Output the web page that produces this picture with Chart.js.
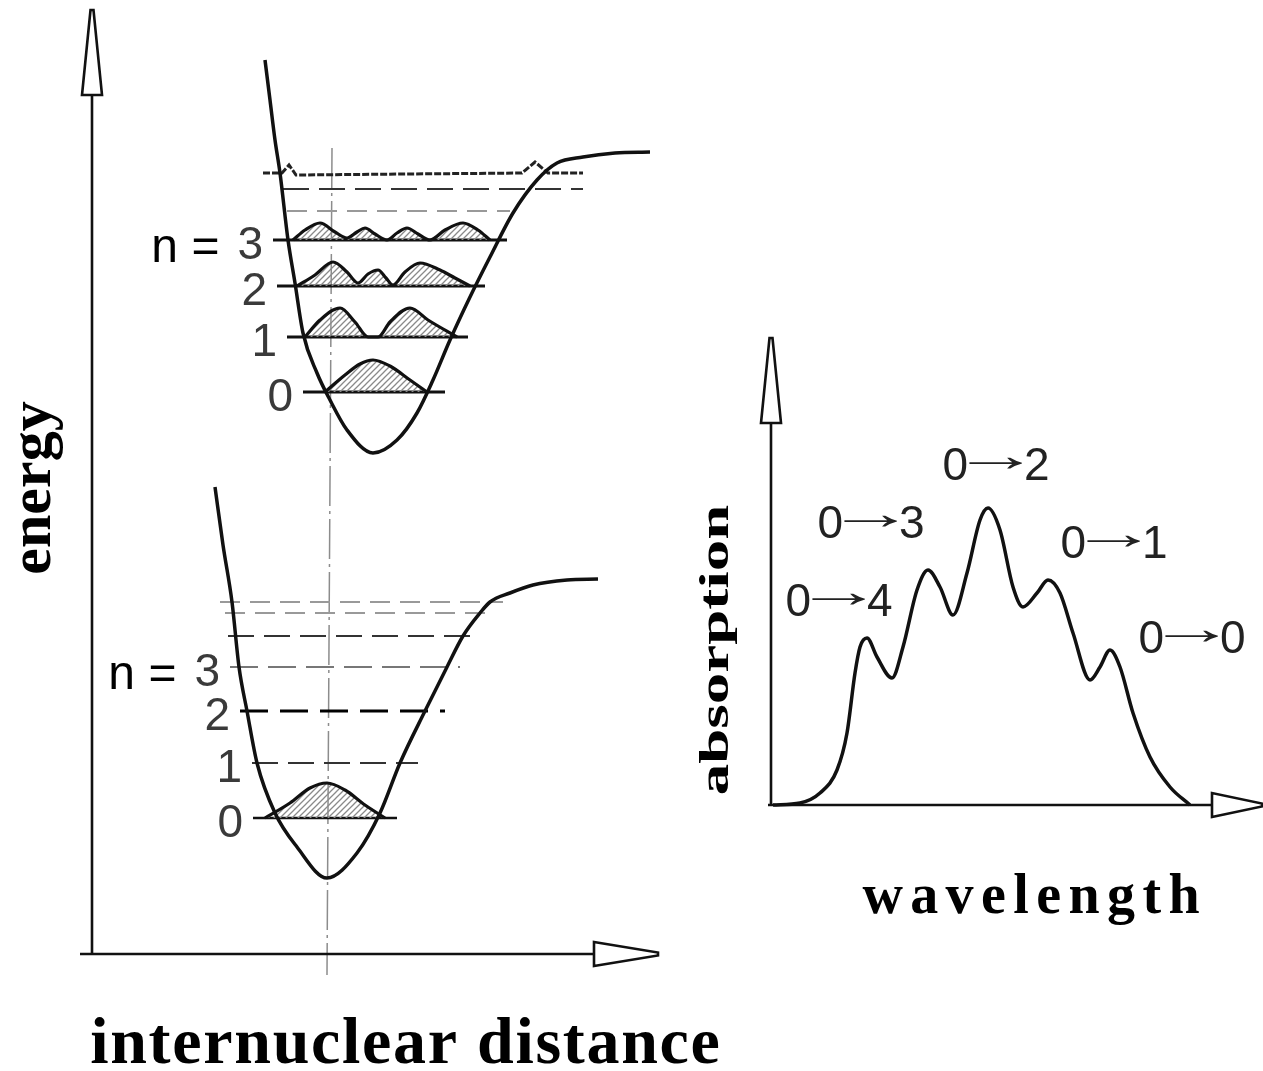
<!DOCTYPE html>
<html>
<head>
<meta charset="utf-8">
<script src="https://cdn.jsdelivr.net/npm/chart.js@4.4.0/dist/chart.umd.min.js"></script>
<style>
  html, body { margin: 0; padding: 0; background: #fff; }
  #wrap { position: relative; width: 1263px; height: 1071px; overflow: hidden; }
  canvas { position: absolute; top: 0; }
  #potentials { left: 0; }
  #spectrum { left: 680px; }
</style>
</head>
<body>
<div id="wrap">
  <canvas id="potentials" width="760" height="1071"></canvas>
  <canvas id="spectrum" width="583" height="1071"></canvas>
</div>
<script>
// ---- potential curves (internuclear distance, energy), arbitrary units ----
const excitedCurve = [
    [18.5, 89.5], [19.0, 85.5], [19.5, 81.5], [20.0, 78.2], [20.8, 71.5], [21.5, 67.2],
    [22.3, 62.2], [23.7, 58.2], [25.0, 55.5], [26.7, 52.5], [29.3, 50.2], [31.7, 51.5],
    [33.7, 54.2], [35.3, 57.5], [37.0, 61.5], [39.0, 65.8], [41.0, 69.8], [43.3, 74.2],
    [45.7, 77.5], [47.7, 79.2], [50.3, 79.8], [53.5, 80.2], [57.0, 80.3]
];
const groundCurve = [
    [13.5, 46.8], [14.3, 41.0], [15.2, 35.3], [15.9, 28.8], [16.7, 24.4], [17.7, 19.2],
    [19.5, 14.2], [21.7, 10.8], [24.7, 7.7], [27.7, 10.2], [30.0, 14.2], [32.0, 19.2],
    [34.5, 24.4], [36.7, 28.8], [38.3, 31.9], [40.0, 34.2], [41.0, 35.3], [43.0, 36.2],
    [45.3, 37.0], [48.7, 37.5], [51.8, 37.6]
];
const equilibriumLine = [[25.2, 80.7], [24.7, -2.0]];

// vibrational levels: energy, start, end, quantum number
const excitedLevelE    = [76.6, 74.4, 71.5, 66.9, 61.8, 56.3];
const excitedLevelFrom = [20.3, 20.7, 19.3, 19.7, 20.7, 22.3];
const excitedLevelTo   = [50.3, 43.0, 42.7, 40.5, 38.8, 36.5];
const excitedLevelN    = [null, null, 3, 2, 1, 0];
const excitedTopLevel = [
    [18.3, 78.2], [20.2, 78.2], [20.9, 79.0], [21.6, 78.0], [44.2, 78.2],
    [45.5, 79.3], [46.8, 78.2], [50.3, 78.2]
];

const groundLevelE    = [35.3, 34.2, 31.9, 28.8, 24.4, 19.2, 13.7];
const groundLevelFrom = [14.0, 14.5, 14.8, 15.0, 16.0, 17.2, 17.3];
const groundLevelTo   = [42.3, 41.5, 39.8, 38.0, 36.5, 33.8, 31.7];
const groundLevelN    = [null, null, null, 3, 2, 1, 0];

// vibrational wavefunctions (probability density sitting on each level)
const excitedPsi3 = [
    [21.3, 71.5], [22.5, 72.5], [24.0, 73.2], [25.5, 72.3], [26.7, 71.7], [27.7, 72.3],
    [28.5, 72.7], [29.5, 72.1], [30.7, 71.5], [31.7, 72.2], [32.7, 72.7], [33.8, 72.1],
    [35.0, 71.5], [36.5, 72.5], [38.3, 73.2], [39.8, 72.5], [41.0, 71.5]
];
const excitedPsi2 = [
    [21.7, 66.9], [23.5, 68.0], [25.3, 69.3], [26.7, 68.3], [27.8, 67.2], [28.8, 68.1],
    [29.8, 68.5], [30.6, 67.7], [31.3, 67.0], [32.5, 68.3], [34.0, 69.2], [36.0, 68.5],
    [37.5, 67.7], [39.0, 66.9]
];
const excitedPsi1 = [
    [22.5, 61.8], [24.0, 63.5], [26.0, 64.7], [27.5, 63.3], [28.8, 61.8], [29.8, 61.8],
    [31.0, 63.3], [33.0, 64.7], [34.8, 63.5], [37.7, 61.8]
];
const excitedPsi0 = [
    [24.5, 56.3], [26.5, 58.0], [28.0, 59.1], [29.3, 59.5], [31.0, 58.9], [33.0, 57.5], [34.7, 56.3]
];
const groundPsi0 = [
    [18.5, 13.7], [21.0, 15.2], [23.0, 16.7], [24.7, 17.2], [26.5, 16.5], [28.5, 15.0], [30.5, 13.7]
];

// ---- absorption spectrum (wavelength, absorption), arbitrary units ----
const spectrum = [
    [0.3, 0.0], [3.0, 0.2], [5.0, 1.2], [6.7, 3.5], [7.7, 7.2], [8.5, 13.2], [9.0, 15.8],
    [9.7, 16.7], [10.7, 14.8], [12.2, 12.7], [13.3, 15.8], [14.7, 21.5], [15.8, 23.5],
    [17.0, 21.8], [18.3, 19.0], [19.7, 23.2], [21.0, 28.5], [21.8, 29.7], [23.0, 27.5],
    [24.3, 21.8], [25.3, 19.8], [26.7, 21.2], [27.8, 22.5], [29.0, 21.2], [30.3, 17.2],
    [32.0, 12.5], [33.0, 13.8], [34.0, 15.5], [35.0, 13.8], [36.3, 9.2], [38.0, 4.8],
    [40.0, 1.8], [42.0, 0.0]
];
const transitionNames = ['0→4', '0→3', '0→2', '0→1', '0→0'];
const transitionLabelX = [6.9, 10.1, 22.6, 34.4, 42.2];
const transitionLabelY = [20.6, 28.4, 34.2, 26.4, 16.9];

// ---- styles ----
const INK = '#111';
const levelStyles = {
    solid: { borderColor: INK, borderWidth: 3.2, borderDash: [] },
    thin:  { borderColor: INK, borderWidth: 2.6, borderDash: [] },
    dash:  { borderColor: '#333', borderWidth: 2.2, borderDash: [26, 10] },
    gray:  { borderColor: '#999', borderWidth: 2.2, borderDash: [20, 10] },
    bold:  { borderColor: '#000', borderWidth: 3, borderDash: [28, 12] },
    light: { borderColor: '#777', borderWidth: 2.2, borderDash: [28, 10] }
};
const excitedLevelKind = ['dash', 'gray', 'solid', 'solid', 'solid', 'solid'];
const groundLevelKind  = ['gray', 'gray', 'dash', 'light', 'bold', 'dash', 'thin'];

const toPts = arr => arr.map(([x, y]) => ({ x, y }));

function hatchPattern(ctx) {
    const c = document.createElement('canvas');
    c.width = c.height = 6;
    const g = c.getContext('2d');
    g.strokeStyle = '#8a8a8a';
    g.lineWidth = 1.3;
    g.beginPath();
    g.moveTo(0, 6); g.lineTo(6, 0);
    g.moveTo(-1, 1); g.lineTo(1, -1);
    g.moveTo(5, 7); g.lineTo(7, 5);
    g.stroke();
    return ctx.createPattern(c, 'repeat');
}

function curve(data, extra) {
    return Object.assign({
        data: toPts(data),
        borderColor: INK,
        borderWidth: 3.5,
        pointRadius: 0,
        fill: false,
        clip: false,
        cubicInterpolationMode: 'monotone'
    }, extra || {});
}

function levelSet(E, from, to, kind) {
    return E.map((e, i) => curve([[from[i], e], [to[i], e]],
        Object.assign({ tension: 0, cubicInterpolationMode: 'default' }, levelStyles[kind[i]])));
}

function arrowHead(ctx, x0, y0, x1, y1, xb, yb, half) {
    // shaft from (x0,y0) to base (xb,yb), open triangle to tip (x1,y1)
    ctx.beginPath();
    ctx.moveTo(x0, y0);
    ctx.lineTo(xb, yb);
    ctx.stroke();
    const dx = x1 - xb, dy = y1 - yb;
    const len = Math.hypot(dx, dy);
    const nx = -dy / len, ny = dx / len;
    ctx.beginPath();
    ctx.moveTo(xb + nx * half, yb + ny * half);
    ctx.lineTo(x1 + nx * 1.5, y1 + ny * 1.5);
    ctx.lineTo(x1 - nx * 1.5, y1 - ny * 1.5);
    ctx.lineTo(xb - nx * half, yb - ny * half);
    ctx.closePath();
    ctx.fillStyle = '#fff';
    ctx.fill();
    ctx.stroke();
}

function spacedText(ctx, str, cx, baseline, spacing) {
    const chars = [...str];
    const widths = chars.map(c => ctx.measureText(c).width);
    const total = widths.reduce((a, b) => a + b, 0) + spacing * (chars.length - 1);
    let x = cx - total / 2;
    ctx.textAlign = 'left';
    ctx.textBaseline = 'alphabetic';
    chars.forEach((c, i) => {
        ctx.fillText(c, x, baseline);
        x += widths[i] + spacing;
    });
}

// "0→2" style label: digits as-is, the arrow glyph stretched to a long shaft
function transitionText(ctx, label, cx, cy, arrowLen) {
    const [from, to] = label.split('→');
    ctx.textAlign = 'left';
    ctx.textBaseline = 'alphabetic';
    const wFrom = ctx.measureText(from).width;
    const wTo = ctx.measureText(to).width;
    const m = ctx.measureText('→');
    const inkL = -m.actualBoundingBoxLeft;
    const inkW = m.actualBoundingBoxRight - inkL;
    const sx = arrowLen / inkW;
    const gap = 1;
    const total = wFrom + gap + arrowLen + gap + wTo;
    let x = cx - total / 2;
    const base = cy + 16.5;
    ctx.fillText(from, x, base);
    x += wFrom + gap;
    ctx.save();
    const arrowBase = cy + (m.actualBoundingBoxAscent - m.actualBoundingBoxDescent) / 2;
    ctx.translate(x - inkL * sx, arrowBase);
    ctx.scale(sx, 1);
    ctx.fillText('→', 0, 0);
    ctx.restore();
    x += arrowLen + gap;
    ctx.fillText(to, x, base);
}

function drawLevelNumbers(ctx, x, y, E, from, N) {
    E.forEach((e, i) => {
        if (N[i] === null) return;
        const right = x.getPixelForValue(from[i]) - 10;
        const base = y.getPixelForValue(e) + 19;
        ctx.font = '46px "Liberation Sans", Arial, sans-serif';
        ctx.fillStyle = '#3a3a3a';
        ctx.textAlign = 'right';
        ctx.textBaseline = 'alphabetic';
        ctx.fillText(String(N[i]), right, base);
        if (N[i] === 3) {
            const w = ctx.measureText('3').width;
            ctx.font = '48px "Liberation Sans", Arial, sans-serif';
            ctx.fillStyle = '#000';
            ctx.fillText('n =', right - w - 18, base + 3);
        }
    });
}

// ---- left: potential energy curves ----
const potentialDecor = {
    id: 'potentialDecor',
    afterDatasetsDraw(chart) {
        const { ctx, chartArea: a, scales: { x, y } } = chart;
        ctx.save();
        ctx.strokeStyle = INK;
        ctx.lineWidth = 2.6;
        arrowHead(ctx, x.getPixelForValue(1.2), y.getPixelForValue(0), x.getPixelForValue(1.2), y.getPixelForValue(94.5),
            x.getPixelForValue(1.2), y.getPixelForValue(86), 10);
        arrowHead(ctx, x.getPixelForValue(0), y.getPixelForValue(0.1), x.getPixelForValue(57.8), y.getPixelForValue(0.1),
            x.getPixelForValue(51.4), y.getPixelForValue(0.1), 12);

        drawLevelNumbers(ctx, x, y, excitedLevelE, excitedLevelFrom, excitedLevelN);
        drawLevelNumbers(ctx, x, y, groundLevelE, groundLevelFrom, groundLevelN);

        ctx.fillStyle = '#000';
        ctx.font = 'bold 60px "Liberation Serif", "Times New Roman", serif';
        ctx.save();
        ctx.translate(a.left - 30, a.bottom - 467);
        ctx.rotate(-Math.PI / 2);
        ctx.textAlign = 'center';
        ctx.textBaseline = 'alphabetic';
        ctx.fillText('energy', 0, 0);
        ctx.restore();

        ctx.font = 'bold 66px "Liberation Serif", "Times New Roman", serif';
        spacedText(ctx, 'internuclear distance', a.left + 325, a.bottom + 108, 1.7);
        ctx.restore();
    }
};

const potCanvas = document.getElementById('potentials');
const hatch = hatchPattern(potCanvas.getContext('2d'));
const psiSet = (data, base) => curve(data, { fill: { value: base }, backgroundColor: hatch, borderWidth: 3.2 });

new Chart(potCanvas, {
    type: 'line',
    data: {
        datasets: [
            curve(excitedCurve),
            curve(groundCurve),
            psiSet(excitedPsi3, excitedLevelE[2]),
            psiSet(excitedPsi2, excitedLevelE[3]),
            psiSet(excitedPsi1, excitedLevelE[4]),
            psiSet(excitedPsi0, excitedLevelE[5]),
            psiSet(groundPsi0, groundLevelE[6]),
            curve(excitedTopLevel, { tension: 0, cubicInterpolationMode: 'default', borderColor: '#222', borderWidth: 3, borderDash: [7, 2] }),
            ...levelSet(excitedLevelE, excitedLevelFrom, excitedLevelTo, excitedLevelKind),
            ...levelSet(groundLevelE, groundLevelFrom, groundLevelTo, groundLevelKind),
            curve(equilibriumLine, { borderColor: '#8c8c8c', borderWidth: 1.5, borderDash: [40, 5, 3, 5], tension: 0 })
        ]
    },
    options: {
        responsive: false,
        animation: false,
        layout: { padding: { left: 80, right: 80, top: 5, bottom: 116 } },
        plugins: { legend: { display: false }, tooltip: { enabled: false } },
        scales: {
            x: { type: 'linear', min: 0, max: 60, display: false },
            y: { type: 'linear', min: 0, max: 95, display: false }
        }
    },
    plugins: [potentialDecor]
});

// ---- right: absorption spectrum ----
const spectrumDecor = {
    id: 'spectrumDecor',
    afterDatasetsDraw(chart) {
        const { ctx, chartArea: a, scales: { x, y } } = chart;
        ctx.save();
        ctx.strokeStyle = INK;
        ctx.lineWidth = 2.6;
        arrowHead(ctx, x.getPixelForValue(0.1), y.getPixelForValue(0), x.getPixelForValue(0.1), y.getPixelForValue(46.7),
            x.getPixelForValue(0.1), y.getPixelForValue(38.2), 10);
        arrowHead(ctx, x.getPixelForValue(-0.2), y.getPixelForValue(0), x.getPixelForValue(49.2), y.getPixelForValue(0),
            x.getPixelForValue(44.2), y.getPixelForValue(0), 12);

        ctx.font = '46px "Liberation Sans", Arial, sans-serif';
        ctx.fillStyle = '#222';
        transitionNames.forEach((t, i) => {
            transitionText(ctx, t, x.getPixelForValue(transitionLabelX[i]), y.getPixelForValue(transitionLabelY[i]), 54);
        });

        ctx.fillStyle = '#000';
        ctx.font = 'bold 42px "Liberation Serif", "Times New Roman", serif';
        ctx.save();
        ctx.translate(a.left - 42, a.bottom - 155);
        ctx.rotate(-Math.PI / 2);
        ctx.scale(1.5, 1);
        ctx.textAlign = 'center';
        ctx.textBaseline = 'alphabetic';
        ctx.fillText('absorption', 0, 0);
        ctx.restore();

        ctx.font = 'bold 56px "Liberation Serif", "Times New Roman", serif';
        spacedText(ctx, 'wavelength', a.left + 261, a.bottom + 108, 7.4);
        ctx.restore();
    }
};

new Chart(document.getElementById('spectrum'), {
    type: 'line',
    data: {
        datasets: [curve(spectrum, { label: 'absorption' })]
    },
    options: {
        responsive: false,
        animation: false,
        layout: { padding: { left: 90, right: 3, top: 335, bottom: 266 } },
        plugins: { legend: { display: false }, tooltip: { enabled: false } },
        scales: {
            x: { type: 'linear', min: 0, max: 49, display: false },
            y: { type: 'linear', min: 0, max: 47, display: false }
        }
    },
    plugins: [spectrumDecor]
});
</script>
</body>
</html>
